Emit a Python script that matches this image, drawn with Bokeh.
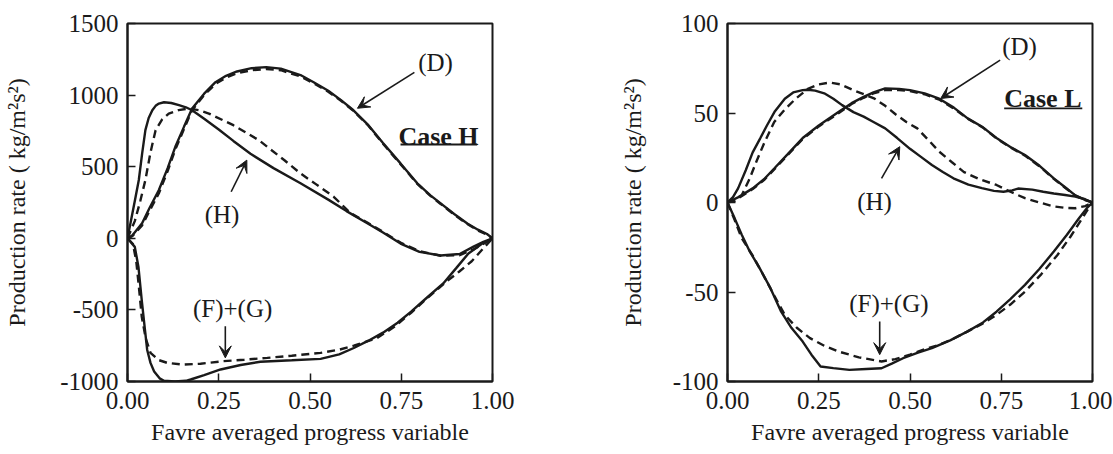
from bokeh.plotting import figure
from bokeh.layouts import row
from bokeh.models import (Range1d, FixedTicker, NumeralTickFormatter, CustomJSTickFormatter,
                          Arrow, VeeHead, Label)
from bokeh.embed import file_html
from bokeh.resources import INLINE

FONT = "Liberation Serif"
INK = "#1a1a1a"

# ---------------- Case H (left) ----------------
h_xticks = [0.0, 0.25, 0.5, 0.75, 1.0]
h_yticks = [-1000, -500, 0, 500, 1000, 1500]

h_D_solid_x = [0, 0.013, 0.04, 0.06, 0.086, 0.11, 0.131, 0.155, 0.177, 0.21, 0.241, 0.27, 0.3, 0.34, 0.38, 0.42, 0.474, 0.51, 0.55, 0.585, 0.619, 0.66, 0.70, 0.748, 0.794, 0.83, 0.858, 0.895, 0.931, 0.96, 0.985, 1.0]
h_D_solid_y = [0, 20, 105, 210, 337, 490, 639, 780, 906, 1010, 1090, 1135, 1165, 1188, 1195, 1185, 1140, 1090, 1030, 965, 894, 790, 665, 523, 384, 300, 244, 170, 104, 60, 30, 0]
h_D_dash_y = [0, 15, 90, 190, 315, 470, 620, 765, 895, 1000, 1078, 1122, 1152, 1174, 1182, 1174, 1130, 1082, 1024, 960, 890, 786, 660, 518, 380, 296, 240, 165, 100, 55, 25, 0]

h_H_solid_x = [0, 0.01, 0.02, 0.031, 0.04, 0.049, 0.058, 0.068, 0.077, 0.086, 0.10, 0.12, 0.141, 0.16, 0.177, 0.21, 0.25, 0.29, 0.337, 0.40, 0.474, 0.55, 0.60, 0.657, 0.70, 0.748, 0.80, 0.858, 0.91, 0.948, 0.975, 1.0]
h_H_solid_y = [0, 130, 260, 407, 590, 755, 840, 894, 925, 941, 950, 945, 930, 915, 894, 835, 760, 680, 590, 490, 384, 270, 190, 105, 40, -37, -95, -120, -110, -58, -25, 0]
h_H_dash_x = [0, 0.02, 0.035, 0.049, 0.063, 0.077, 0.095, 0.113, 0.14, 0.168, 0.195, 0.223, 0.29, 0.36, 0.43, 0.474, 0.515, 0.565, 0.611, 0.657, 0.70, 0.748, 0.80, 0.858, 0.91, 0.95, 0.978, 1.0]
h_H_dash_y = [0, 120, 260, 407, 600, 755, 830, 871, 895, 906, 895, 871, 790, 685, 545, 453, 380, 290, 176, 110, 45, -30, -90, -122, -118, -75, -35, 0]

h_FG_solid_x = [0, 0.02, 0.03, 0.039, 0.047, 0.054, 0.063, 0.073, 0.088, 0.10, 0.13, 0.16, 0.173, 0.21, 0.255, 0.31, 0.364, 0.45, 0.529, 0.58, 0.62, 0.66, 0.70, 0.74, 0.777, 0.82, 0.865, 0.90, 0.934, 0.97, 1.0]
h_FG_solid_y = [0, -60, -200, -431, -620, -780, -870, -930, -978, -995, -1000, -995, -986, -955, -916, -885, -862, -852, -842, -810, -766, -715, -659, -590, -512, -415, -315, -210, -106, -40, 0]
h_FG_dash_x = [0, 0.015, 0.024, 0.032, 0.039, 0.05, 0.063, 0.085, 0.109, 0.15, 0.2, 0.263, 0.32, 0.383, 0.45, 0.529, 0.58, 0.62, 0.684, 0.73, 0.777, 0.82, 0.875, 0.91, 0.943, 0.975, 1.0]
h_FG_dash_y = [0, -40, -160, -360, -547, -700, -800, -850, -870, -882, -876, -858, -848, -835, -820, -800, -778, -750, -696, -620, -520, -420, -300, -230, -160, -70, 0]

h_label_text = ["(D)", "(H)", "(F)+(G)"]
h_label_x = [0.844, 0.259, 0.288]
h_label_y = [1228, 163, -487]
h_arrow_x0 = [0.786, 0.284, 0.268]
h_arrow_y0 = [1159, 325, -615]
h_arrow_x1 = [0.630, 0.327, 0.268]
h_arrow_y1 = [908, 546, -835]
h_case = "Case H"
h_case_xy = (0.852, 708)
h_case_ul_x = [0.748, 0.958]
h_case_ul_y = [655, 655]

# ---------------- Case L (right) ----------------
l_xticks = [0.0, 0.25, 0.5, 0.75, 1.0]
l_yticks = [-100, -50, 0, 50, 100]

l_D_x = [0, 0.03, 0.069, 0.10, 0.128, 0.165, 0.206, 0.25, 0.305, 0.34, 0.373, 0.40, 0.432, 0.47, 0.50, 0.54, 0.58, 0.62, 0.658, 0.70, 0.737, 0.775, 0.815, 0.855, 0.894, 0.925, 0.953, 0.98, 1.0]
l_D_solid_y = [0, 3, 7.9, 13, 19, 27, 36, 43, 50.7, 55.5, 59, 61.5, 63.7, 63.5, 62.8, 61, 58, 53, 47, 42, 36, 31, 26.5, 20.5, 13.5, 8.5, 4, 1.5, 0]
l_D_dash_y = [0, 2.5, 7.5, 12.5, 18.5, 26.5, 35.5, 42.5, 50, 55, 58.5, 61, 62.8, 62.8, 62.2, 60.5, 57.5, 52.5, 46.8, 41.8, 35.8, 30.8, 26.2, 20.2, 13.2, 8.2, 3.8, 1.3, 0]

l_H_solid_x = [0, 0.015, 0.029, 0.05, 0.069, 0.09, 0.108, 0.13, 0.157, 0.18, 0.206, 0.22, 0.24, 0.265, 0.29, 0.314, 0.345, 0.373, 0.40, 0.432, 0.465, 0.50, 0.53, 0.56, 0.59, 0.619, 0.66, 0.697, 0.73, 0.756, 0.78, 0.796, 0.835, 0.865, 0.894, 0.925, 0.953, 0.98, 1.0]
l_H_solid_y = [0, 3, 7.9, 18, 28, 36, 43, 51, 58, 61.5, 62.8, 63, 62.5, 61, 58, 54.4, 50.5, 48, 45, 41.4, 36, 30, 25.5, 21, 17, 13.5, 10, 8, 6.5, 6, 6.8, 7.8, 7.2, 6, 5, 4.2, 3.3, 1.8, 0]
l_H_dash_x = [0, 0.02, 0.039, 0.06, 0.079, 0.10, 0.128, 0.157, 0.187, 0.22, 0.25, 0.28, 0.31, 0.344, 0.373, 0.403, 0.432, 0.462, 0.49, 0.52, 0.55, 0.58, 0.615, 0.648, 0.69, 0.737, 0.775, 0.815, 0.855, 0.894, 0.925, 0.953, 0.98, 1.0]
l_H_dash_y = [0, 1, 4, 13, 22.8, 33, 45, 52, 58, 63.5, 66, 67, 66, 62.8, 60.5, 58, 54, 49, 45, 41.4, 35, 28.4, 22.5, 17, 13, 9.8, 6, 2.4, 0, -2.2, -3, -3.2, -2, 0]

l_FG_solid_x = [0, 0.02, 0.039, 0.06, 0.088, 0.118, 0.147, 0.175, 0.206, 0.23, 0.255, 0.29, 0.334, 0.38, 0.422, 0.45, 0.481, 0.52, 0.56, 0.61, 0.658, 0.70, 0.737, 0.775, 0.815, 0.855, 0.894, 0.93, 0.963, 0.985, 1.0]
l_FG_solid_y = [0, -9, -18, -27, -36.7, -48, -61, -70, -77.7, -85, -91.6, -92.5, -93.5, -93, -92.6, -90, -87, -84, -81.4, -77, -72, -67, -61, -54, -46, -37, -27.4, -18, -8.8, -3, 0]
l_FG_dash_x = [0, 0.02, 0.039, 0.07, 0.098, 0.128, 0.157, 0.19, 0.226, 0.265, 0.305, 0.36, 0.422, 0.46, 0.50, 0.54, 0.58, 0.62, 0.658, 0.70, 0.737, 0.775, 0.815, 0.86, 0.904, 0.94, 0.972, 0.99, 1.0]
l_FG_dash_y = [0, -10, -20, -30, -40.5, -52, -62.8, -70, -75.8, -80, -83.3, -86.5, -88.8, -87.5, -85, -82, -79.5, -76, -72, -67.5, -62.8, -57, -49.8, -40, -29.3, -19, -8.8, -3, 0]

l_label_text = ["(D)", "(H)", "(F)+(G)"]
l_label_x = [0.80, 0.403, 0.442]
l_label_y = [87, 0.5, -56.3]
l_arrow_x0 = [0.747, 0.422, 0.417]
l_arrow_y0 = [79.5, 13.5, -66.5]
l_arrow_x1 = [0.584, 0.472, 0.417]
l_arrow_y1 = [58.1, 31.2, -85]
l_case = "Case L"
l_case_xy = (0.864, 58.1)
l_case_ul_x = [0.758, 0.972]
l_case_ul_y = [52.6, 52.6]

x_title = "Favre averaged progress variable"
y_title = "Production rate ( kg/m\u00b2s\u00b2)"


def make_panel(width, height, borders, ylab_standoff, yrange, xticks, yticks, curves,
               ltext, lx, ly, ax0, ay0, ax1, ay1, case, case_xy, ulx, uly):
    bl, br, bt, bb = borders
    p = figure(width=width, height=height, output_backend="svg", toolbar_location=None,
               x_range=Range1d(0, 1), y_range=Range1d(*yrange),
               min_border_left=bl, min_border_right=br, min_border_top=bt, min_border_bottom=bb)
    p.background_fill_color = "white"
    p.border_fill_color = "white"
    p.grid.visible = False
    p.outline_line_color = INK
    p.outline_line_width = 2
    for ax in (p.xaxis[0], p.yaxis[0]):
        ax.axis_line_color = INK
        ax.axis_line_width = 2
        ax.major_tick_in = 8
        ax.major_tick_out = 0
        ax.major_tick_line_color = INK
        ax.major_tick_line_width = 1.5
        ax.minor_tick_line_color = None
        ax.major_label_text_font = FONT
        ax.major_label_text_font_size = "25px"
        ax.major_label_text_color = INK
        ax.axis_label_text_font = FONT
        ax.axis_label_text_font_size = "24px"
        ax.axis_label_text_font_style = "normal"
        ax.axis_label_text_color = INK
    p.xaxis.ticker = FixedTicker(ticks=xticks)
    p.yaxis.ticker = FixedTicker(ticks=yticks)
    p.xaxis.formatter = NumeralTickFormatter(format="0.00")
    p.yaxis.formatter = CustomJSTickFormatter(code="return String(Math.round(tick)).replace('\\u2212', '-');")
    p.xaxis.major_label_standoff = 10
    p.yaxis.major_label_standoff = 9
    p.xaxis.axis_label = x_title
    p.yaxis.axis_label = y_title
    p.xaxis.axis_label_standoff = 7
    p.yaxis.axis_label_standoff = ylab_standoff

    for xs, ys, dash in curves:
        p.line(xs, ys, line_color=INK, line_width=2.4, line_dash=dash)

    for t, x, y in zip(ltext, lx, ly):
        p.add_layout(Label(x=x, y=y, text=t, text_align="center", text_baseline="middle",
                           text_font=FONT, text_font_size="25px", text_color=INK))
    for x0, y0, x1, y1 in zip(ax0, ay0, ax1, ay1):
        p.add_layout(Arrow(x_start=x0, y_start=y0, x_end=x1, y_end=y1,
                           line_color=INK, line_width=1.6,
                           end=VeeHead(size=12, line_color=INK, fill_color=INK, line_width=1)))
    p.add_layout(Label(x=case_xy[0], y=case_xy[1], text=case, text_align="center",
                       text_baseline="middle", text_font=FONT, text_font_size="26px",
                       text_font_style="bold", text_color=INK))
    p.line(ulx, uly, line_color=INK, line_width=1.8)
    return p


p1 = make_panel(560, 454, (127, 68, 23, 72), 27, (-1000, 1500), h_xticks, h_yticks,
                [(h_D_solid_x, h_D_solid_y, "solid"), (h_D_solid_x, h_D_dash_y, "8 5"),
                 (h_H_solid_x, h_H_solid_y, "solid"), (h_H_dash_x, h_H_dash_y, "8 5"),
                 (h_FG_solid_x, h_FG_solid_y, "solid"), (h_FG_dash_x, h_FG_dash_y, "8 5")],
                h_label_text, h_label_x, h_label_y, h_arrow_x0, h_arrow_y0, h_arrow_x1, h_arrow_y1,
                h_case, h_case_xy, h_case_ul_x, h_case_ul_y)

p2 = make_panel(552, 454, (167, 20, 22, 73), 24, (-100, 100), l_xticks, l_yticks,
                [(l_D_x, l_D_solid_y, "solid"), (l_D_x, l_D_dash_y, "8 5"),
                 (l_H_solid_x, l_H_solid_y, "solid"), (l_H_dash_x, l_H_dash_y, "8 5"),
                 (l_FG_solid_x, l_FG_solid_y, "solid"), (l_FG_dash_x, l_FG_dash_y, "8 5")],
                l_label_text, l_label_x, l_label_y, l_arrow_x0, l_arrow_y0, l_arrow_x1, l_arrow_y1,
                l_case, l_case_xy, l_case_ul_x, l_case_ul_y)

layout = row(p1, p2)
open("out.html", "w").write(file_html(layout, INLINE))
